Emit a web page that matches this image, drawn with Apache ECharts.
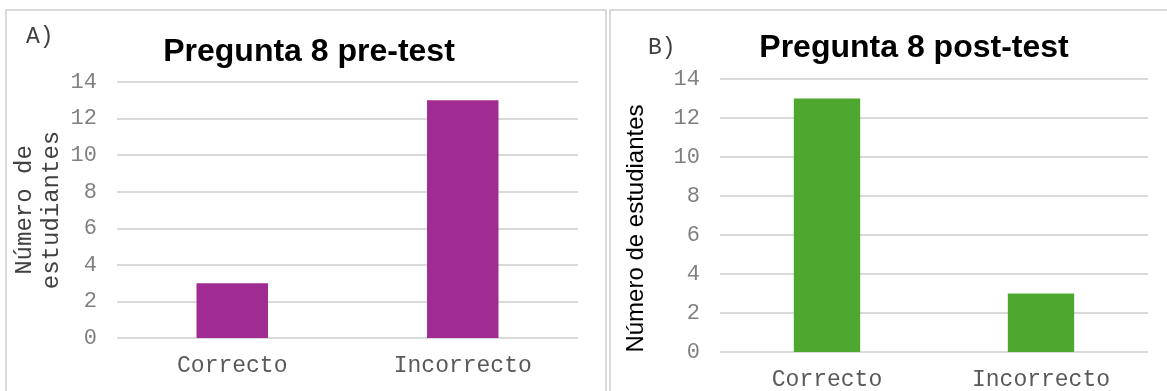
<!DOCTYPE html>
<html>
<head>
<meta charset="utf-8">
<style>
  html, body { margin: 0; padding: 0; background: #ffffff; }
  #chart { width: 1167px; height: 391px; }
</style>
<script src="https://cdn.jsdelivr.net/npm/echarts@6/dist/echarts.min.js"></script>
</head>
<body>
<div id="chart"></div>
<script>
// Answers to question 8, before and after the intervention
const categories = ['Correcto', 'Incorrecto'];
const preTest = [3, 13];
const postTest = [13, 3];
const yTicks = { min: 0, max: 14, interval: 2 };

const MONO = '"Liberation Mono", "Courier New", monospace';
const SANS = '"Liberation Sans", Arial, sans-serif';
const GRID_LINE = '#d9d9d9';

function valueAxis(gridIndex, name, nameStyle, nameGap) {
  return {
    type: 'value',
    gridIndex: gridIndex,
    min: yTicks.min,
    max: yTicks.max,
    interval: yTicks.interval,
    name: name,
    nameLocation: 'middle',
    nameRotate: 90,
    nameGap: nameGap,
    nameTextStyle: nameStyle,
    axisLine: { show: false },
    axisTick: { show: false },
    axisLabel: { color: '#808080', fontFamily: MONO, fontSize: 22, margin: 20 },
    splitLine: { lineStyle: { color: GRID_LINE, width: 2 } }
  };
}

function categoryAxis(gridIndex) {
  return {
    type: 'category',
    gridIndex: gridIndex,
    data: categories,
    axisLine: { show: false },
    axisTick: { show: false },
    axisLabel: { color: '#595959', fontFamily: MONO, fontSize: 23, margin: 16 }
  };
}

const chart = echarts.init(document.getElementById('chart'), null, { renderer: 'canvas' });

chart.setOption({
  animation: false,
  backgroundColor: '#ffffff',
  title: [
    {
      text: 'Pregunta 8 pre-test',
      left: 304, top: 31, textAlign: 'center',
      textStyle: { fontFamily: SANS, fontWeight: 'bold', fontSize: 32, color: '#000000' }
    },
    {
      text: 'Pregunta 8 post-test',
      left: 909, top: 27, textAlign: 'center',
      textStyle: { fontFamily: SANS, fontWeight: 'bold', fontSize: 32, color: '#000000' }
    },
    {
      text: 'A)',
      left: 21, top: 20,
      textStyle: { fontFamily: MONO, fontWeight: 'normal', fontSize: 23, color: '#404040' }
    },
    {
      text: 'B)',
      left: 643, top: 31,
      textStyle: { fontFamily: MONO, fontWeight: 'normal', fontSize: 23, color: '#404040' }
    }
  ],
  graphic: [
    {
      type: 'rect', silent: true, z: -1,
      shape: { x: 6, y: 10, width: 600, height: 400 },
      style: { fill: null, stroke: GRID_LINE, lineWidth: 2 }
    },
    {
      type: 'rect', silent: true, z: -1,
      shape: { x: 610, y: 10, width: 580, height: 400 },
      style: { fill: null, stroke: GRID_LINE, lineWidth: 2 }
    }
  ],
  grid: [
    { left: 117, top: 82, width: 461, height: 256 },
    { left: 720, top: 79, width: 428, height: 276 }
  ],
  xAxis: [categoryAxis(0), categoryAxis(1)],
  yAxis: [
    valueAxis(0, 'Número de\nestudiantes',
      { fontFamily: MONO, fontSize: 24, color: '#404040', lineHeight: 27 }, 52),
    valueAxis(1, 'Número de estudiantes',
      { fontFamily: SANS, fontSize: 24, color: '#000000', padding: [0, 26, 0, 0] }, 72)
  ],
  series: [
    {
      type: 'bar', xAxisIndex: 0, yAxisIndex: 0,
      data: preTest, barWidth: '31%',
      itemStyle: { color: '#a02b93' }
    },
    {
      type: 'bar', xAxisIndex: 1, yAxisIndex: 1,
      data: postTest, barWidth: '31%',
      itemStyle: { color: '#4ea72e' }
    }
  ]
});
</script>
</body>
</html>
